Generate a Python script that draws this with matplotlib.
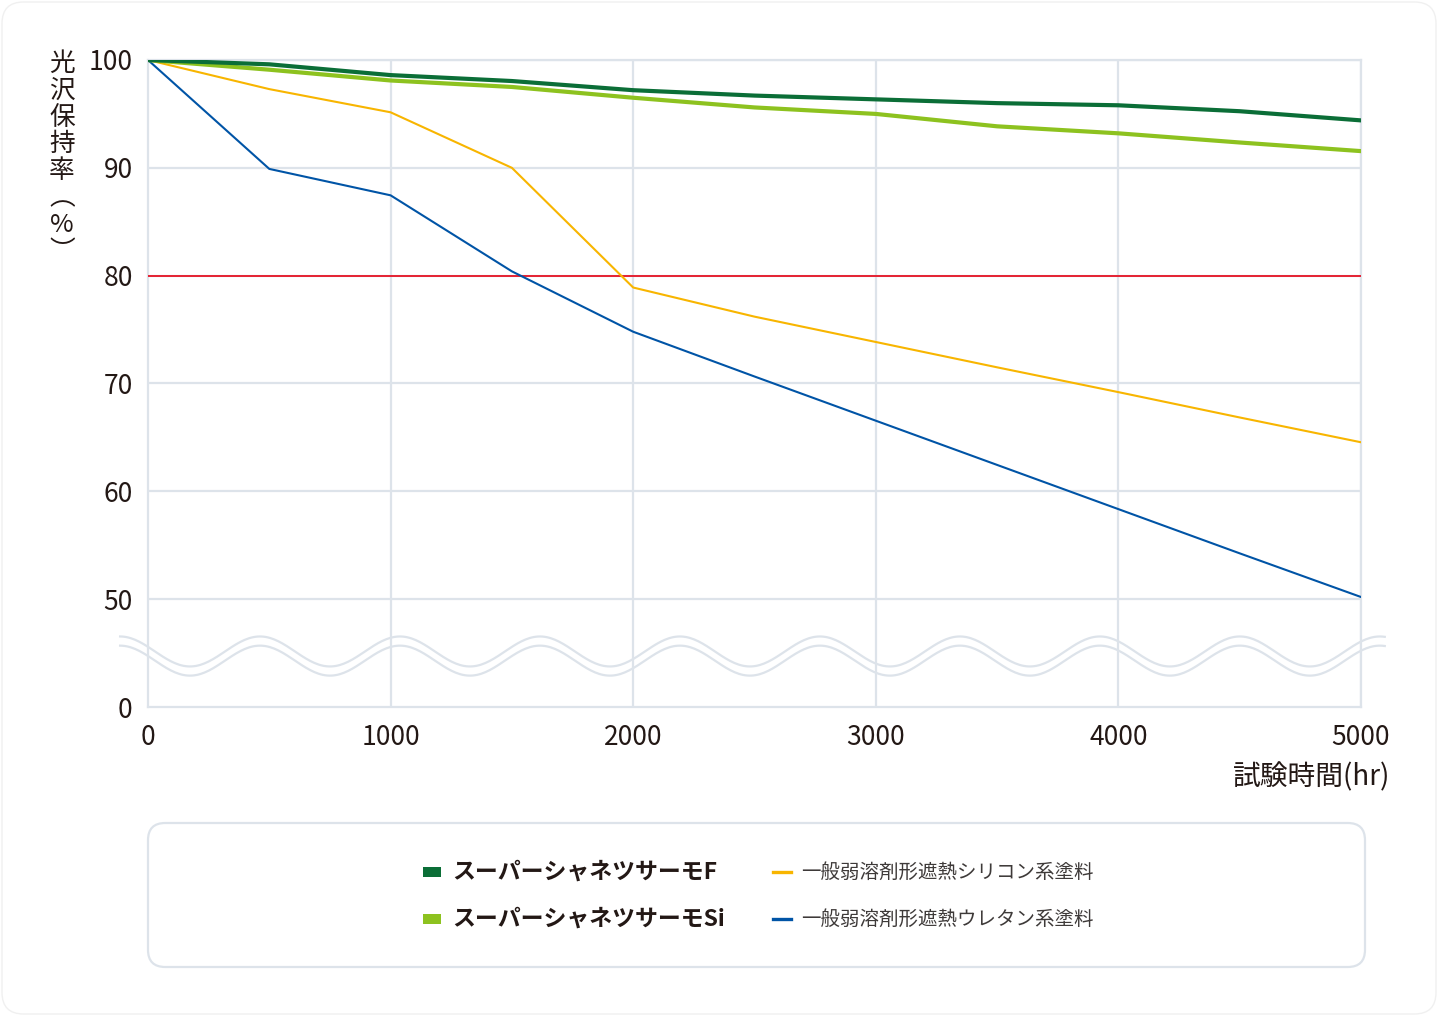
import numpy as np
import matplotlib
matplotlib.use("Agg")
import matplotlib.pyplot as plt
from matplotlib.patches import FancyBboxPatch, Rectangle
from matplotlib.lines import Line2D

plt.rcParams['font.family'] = ['Noto Sans CJK JP', 'DejaVu Sans']

# ---- data ----
hours = [0, 500, 1000, 1500, 2000, 2500, 3000, 3500, 4000, 4500, 5000]
super_ef = [100, 99.6, 98.6, 98.05, 97.2, 96.7, 96.35, 96.0, 95.8, 95.25, 94.4]
super_si = [100, 99.1, 98.1, 97.5, 96.5, 95.6, 95.0, 93.85, 93.2, 92.35, 91.55]
silicone = [100, 97.3, 95.15, 90.0, 78.9, 76.2, 73.85, 71.5, 69.2, 66.85, 64.55]
urethane = [100, 89.9, 87.45, 80.4, 74.8, 70.65, 66.55, 62.45, 58.35, 54.25, 50.2]
threshold = 80

series_names = ["スーパーシャネツサーモF", "スーパーシャネツサーモSi",
                "一般弱溶剤形遮熱シリコン系塗料", "一般弱溶剤形遮熱ウレタン系塗料"]
x_ticks = [0, 1000, 2000, 3000, 4000, 5000]
y_ticks = [40, 50, 60, 70, 80, 90, 100]
y_tick_labels = ["0", "50", "60", "70", "80", "90", "100"]
y_label = "光\n沢\n保\n持\n率\n︵\n%\n︶"
x_label = "試験時間(hr)"

c_ef = "#0b6e37"
c_si = "#8dc21f"
c_sil = "#f8b500"
c_ure = "#0054a6"
c_red = "#e60012"
c_grid = "#dde3ea"
c_text = "#231815"

W, H = 1438, 1016
fig = plt.figure(figsize=(W / 100, H / 100), dpi=100)
fig.patch.set_facecolor("white")

def fx(px):
    return px / W

def fy(py):
    return 1 - py / H

ax = fig.add_axes([fx(148), fy(707), fx(1361) - fx(148), fy(60) - fy(707)])
ax.set_xlim(0, 5000)
ax.set_ylim(40, 100)

for s in ax.spines.values():
    s.set_color(c_grid)
    s.set_linewidth(1.6)

for y in [50, 60, 70, 80, 90, 100]:
    ax.axhline(y, color=c_grid, lw=1.6, zorder=1)
for x in [1000, 2000, 3000, 4000, 5000]:
    ax.axvline(x, color=c_grid, lw=1.6, zorder=1)

ax.set_xticks(x_ticks)
ax.set_xticklabels([str(v) for v in x_ticks])
ax.set_yticks(y_ticks)
ax.set_yticklabels(y_tick_labels)
ax.tick_params(length=0, labelsize=19, colors=c_text)
ax.tick_params(axis='y', pad=11)
ax.tick_params(axis='x', pad=12)

# axis break wave
xw = np.linspace(-115, 5098, 600)
phase = 2 * np.pi * (xw - 461.6) / 577
for c in (45.15, 44.3):
    ax.plot(xw, c + 1.39 * np.cos(phase), color=c_grid, lw=1.6,
            clip_on=False, zorder=2)

ax.axhline(threshold, color=c_red, lw=1.2, zorder=3)
ax.plot(hours, urethane, color=c_ure, lw=1.5, zorder=4)
ax.plot(hours, silicone, color=c_sil, lw=1.5, zorder=4)
ax.plot(hours, super_si, color=c_si, lw=3.0, zorder=5)
ax.plot(hours, super_ef, color=c_ef, lw=3.0, zorder=6)

# y label (vertical stacked, one text)
fig.text(fx(62), fy(51), y_label, ha='center', va='top', fontsize=18.5,
         linespacing=1.04, multialignment='center', color=c_text)

fig.text(fx(1390), fy(777), x_label, ha='right', va='center', fontsize=20,
         color=c_text)

# legend box
box = FancyBboxPatch((fx(148), fy(967)), fx(1365) - fx(148), fy(823) - fy(967),
                     boxstyle="round,pad=0,rounding_size=0.012",
                     transform=fig.transFigure, facecolor="white",
                     edgecolor=c_grid, lw=1.6, mutation_aspect=W / H)
fig.patches.append(box)

rows = [872, 919]
for i, col in enumerate([c_ef, c_si]):
    fig.patches.append(Rectangle((fx(423), fy(rows[i] + 5)), fx(441) - fx(423),
                                 fy(rows[i] - 5) - fy(rows[i] + 5),
                                 transform=fig.transFigure, facecolor=col,
                                 edgecolor='none'))
    fig.text(fx(452), fy(rows[i]), series_names[i], ha='left', va='center',
             fontsize=16.5, fontweight='bold', color=c_text)
for i, col in enumerate([c_sil, c_ure]):
    fig.lines.append(Line2D([fx(773), fx(791)], [fy(rows[i]), fy(rows[i])],
                            transform=fig.transFigure, color=col, lw=2.4))
    fig.text(fx(801), fy(rows[i]), series_names[i + 2], ha='left', va='center',
             fontsize=14, color="#3e3a39")

# faint outer border
outer = FancyBboxPatch((fx(2), fy(1014)), fx(1436) - fx(2), fy(2) - fy(1014),
                       boxstyle="round,pad=0,rounding_size=0.015",
                       transform=fig.transFigure, facecolor="none",
                       edgecolor="#f0f0f0", lw=1.0, mutation_aspect=W / H)
fig.patches.append(outer)

fig.savefig("out.png", dpi=100, facecolor="white")
